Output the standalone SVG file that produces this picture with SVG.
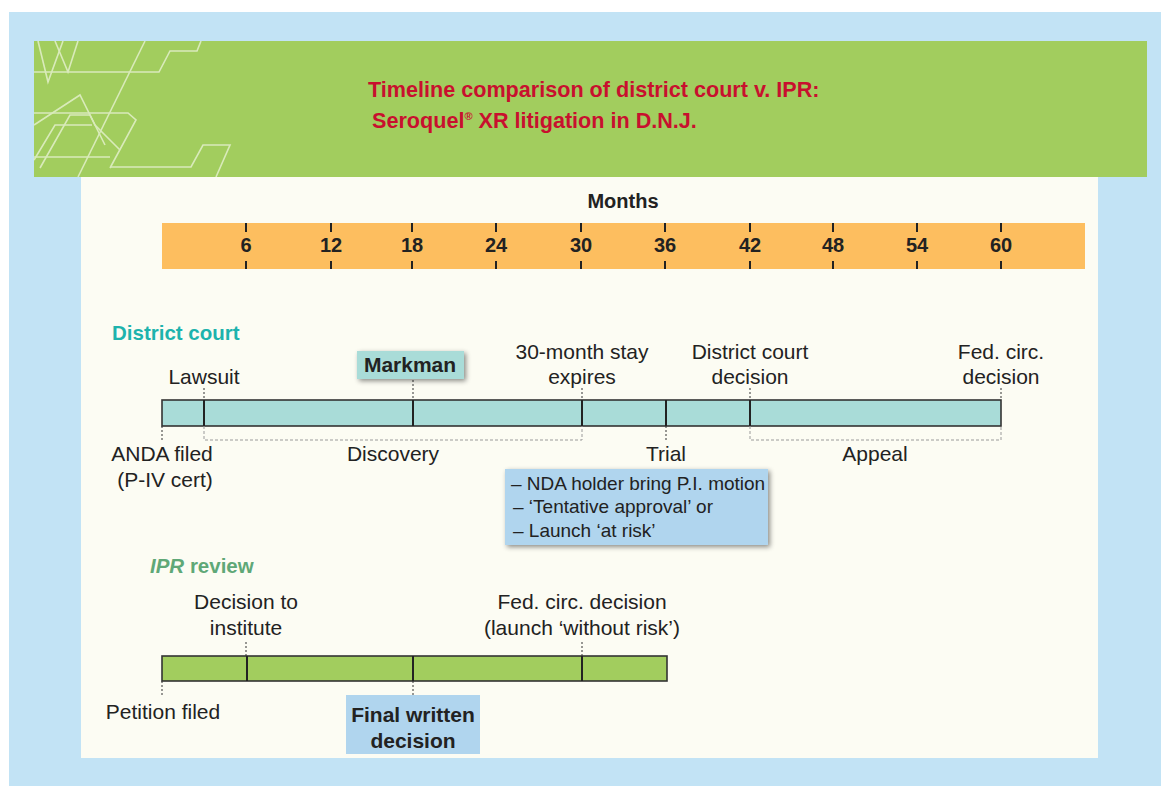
<svg xmlns="http://www.w3.org/2000/svg" width="1161" height="786" viewBox="0 0 1161 786">
<defs>
<style>
text{font-family:"Liberation Sans",Arial,sans-serif;fill:#222}
.lbl{font-size:21px;text-anchor:middle}
.num{font-size:20px;font-weight:bold;text-anchor:middle}
.bold{font-weight:bold}
.bar{stroke:#333;stroke-width:1.6}
.div{stroke:#222;stroke-width:2}
.lead{stroke:#333;stroke-width:1;stroke-dasharray:2 2;fill:none}
.brk{stroke:#9a9a9a;stroke-width:1;stroke-dasharray:3 2;fill:none}
.tick{stroke:#222;stroke-width:2}
.deco{fill:none;stroke:#e3f0cb;stroke-width:1.6;opacity:0.85}
</style>
<filter id="sh" x="-10%" y="-20%" width="125%" height="150%">
<feDropShadow dx="2" dy="2" stdDeviation="2.5" flood-color="#000" flood-opacity="0.45"/>
</filter>
</defs>
<rect width="1161" height="786" fill="#ffffff"/>
<rect x="9" y="12" width="1152" height="774" fill="#c2e3f5"/>
<g id="header">
<rect x="34" y="41" width="1113" height="136" fill="#a2cd5e"/>
<g class="deco">
<polyline points="38,41 48,82 63,41"/>
<polyline points="55,41 68,72 78,41"/>
<polyline points="145,41 78,177"/>
<polyline points="34,72 159,72 170,51 197,51 201,41"/>
<polyline points="34,113 128,113 136,120 110,168"/>
<polyline points="34,125 80,95 95,125 120,150"/>
<polyline points="34,157 110,157"/>
<polyline points="40,168 70,115 90,115 105,145"/>
<polyline points="111,167 191,167 203,145 230,145 216,177"/>
<polyline points="34,160 55,125 92,125"/>
</g>
<text x="368" y="97" font-size="21.6" font-weight="bold" style="fill:#c8102e">Timeline comparison of district court v. IPR:</text>
<text x="372" y="128" font-size="21.6" font-weight="bold" style="fill:#c8102e">Seroquel<tspan font-size="11" dy="-8">®</tspan><tspan dy="8"> XR litigation in D.N.J.</tspan></text>
</g>
<rect x="81" y="177" width="1017" height="581" fill="#fcfcf3"/>
<g id="months-axis">
<text x="623" y="208" class="bold" font-size="20" text-anchor="middle">Months</text>
<rect x="162" y="223" width="923" height="46" fill="#fdbe5f"/>
<g class="tick">
<line x1="246" y1="223" x2="246" y2="232"/><line x1="246" y1="261" x2="246" y2="269"/>
<line x1="331" y1="223" x2="331" y2="232"/><line x1="331" y1="261" x2="331" y2="269"/>
<line x1="412" y1="223" x2="412" y2="232"/><line x1="412" y1="261" x2="412" y2="269"/>
<line x1="496" y1="223" x2="496" y2="232"/><line x1="496" y1="261" x2="496" y2="269"/>
<line x1="581" y1="223" x2="581" y2="232"/><line x1="581" y1="261" x2="581" y2="269"/>
<line x1="665" y1="223" x2="665" y2="232"/><line x1="665" y1="261" x2="665" y2="269"/>
<line x1="750" y1="223" x2="750" y2="232"/><line x1="750" y1="261" x2="750" y2="269"/>
<line x1="833" y1="223" x2="833" y2="232"/><line x1="833" y1="261" x2="833" y2="269"/>
<line x1="917" y1="223" x2="917" y2="232"/><line x1="917" y1="261" x2="917" y2="269"/>
<line x1="1001" y1="223" x2="1001" y2="232"/><line x1="1001" y1="261" x2="1001" y2="269"/>
</g>
<text class="num" x="246" y="252">6</text>
<text class="num" x="331" y="252">12</text>
<text class="num" x="412" y="252">18</text>
<text class="num" x="496" y="252">24</text>
<text class="num" x="581" y="252">30</text>
<text class="num" x="665" y="252">36</text>
<text class="num" x="750" y="252">42</text>
<text class="num" x="833" y="252">48</text>
<text class="num" x="917" y="252">54</text>
<text class="num" x="1001" y="252">60</text>
</g>
<g id="district-court">
<text x="112" y="340" font-size="20.5" font-weight="bold" style="fill:#1db3ad">District court</text>
<rect class="bar" x="162" y="400" width="839" height="26" fill="#a9dcd8"/>
<g class="div">
<line x1="204" y1="400" x2="204" y2="426"/>
<line x1="413" y1="400" x2="413" y2="426"/>
<line x1="582" y1="400" x2="582" y2="426"/>
<line x1="666" y1="400" x2="666" y2="426"/>
<line x1="750" y1="400" x2="750" y2="426"/>
</g>
</g>
<g id="connectors">
<line class="lead" x1="204" y1="388" x2="204" y2="400"/>
<line class="lead" x1="413" y1="380" x2="413" y2="400"/>
<line class="lead" x1="582" y1="388" x2="582" y2="400"/>
<line class="lead" x1="750" y1="388" x2="750" y2="400"/>
<line class="lead" x1="1001" y1="388" x2="1001" y2="400"/>
<line class="lead" x1="162" y1="426" x2="162" y2="442"/>
<line class="lead" x1="666" y1="426" x2="666" y2="440"/>
<polyline class="brk" points="204,426 204,440 582,440 582,426"/>
<polyline class="brk" points="750,426 750,440 1001,440 1001,426"/>
<line class="lead" x1="246" y1="642" x2="246" y2="656"/>
<line class="lead" x1="582" y1="642" x2="582" y2="656"/>
<line class="lead" x1="162" y1="681" x2="162" y2="697"/>
<line class="lead" x1="413" y1="681" x2="413" y2="695"/>
</g>
<g id="lawsuit"><text class="lbl" x="204" y="384">Lawsuit</text></g>
<g id="markman">
<rect x="357" y="351" width="107" height="28" fill="#a9dcd8" filter="url(#sh)"/>
<text class="lbl bold" x="410" y="372">Markman</text>
</g>
<g id="stay"><text class="lbl" x="582" y="359">30-month stay</text><text class="lbl" x="582" y="384">expires</text></g>
<g id="dc-decision"><text class="lbl" x="750" y="359">District court</text><text class="lbl" x="750" y="384">decision</text></g>
<g id="fed-circ"><text class="lbl" x="1001" y="359">Fed. circ.</text><text class="lbl" x="1001" y="384">decision</text></g>
<g id="anda"><text class="lbl" x="162" y="461">ANDA filed</text><text class="lbl" x="165" y="487">(P-IV cert)</text></g>
<g id="discovery"><text class="lbl" x="393" y="461">Discovery</text></g>
<g id="trial"><text class="lbl" x="666" y="461">Trial</text></g>
<g id="appeal"><text class="lbl" x="875" y="461">Appeal</text></g>
<g id="nda-box">
<rect x="505" y="469" width="263" height="76" fill="#b0d5ee" filter="url(#sh)"/>
<text x="511" y="490" font-size="19">– NDA holder bring P.I. motion</text>
<text x="513" y="513" font-size="19">– ‘Tentative approval’ or</text>
<text x="513" y="537" font-size="19">– Launch ‘at risk’</text>
</g>
<g id="ipr-review">
<text x="150" y="573" font-size="20.5" font-weight="bold" style="fill:#5fa877"><tspan font-style="italic">IPR</tspan> review</text>
<rect class="bar" x="162" y="656" width="505" height="25" fill="#a2cd5e"/>
<g class="div">
<line x1="247" y1="656" x2="247" y2="681"/>
<line x1="413" y1="656" x2="413" y2="681"/>
<line x1="582" y1="656" x2="582" y2="681"/>
</g>
</g>
<g id="decision-institute"><text class="lbl" x="246" y="609">Decision to</text><text class="lbl" x="246" y="635">institute</text></g>
<g id="ipr-fed-circ"><text class="lbl" x="582" y="609">Fed. circ. decision</text><text class="lbl" x="582" y="635">(launch ‘without risk’)</text></g>
<g id="petition"><text class="lbl" x="163" y="719">Petition filed</text></g>
<g id="final-written">
<rect x="346" y="695" width="134" height="59" fill="#b0d5ee"/>
<text class="lbl bold" x="413" y="722">Final written</text>
<text class="lbl bold" x="413" y="748">decision</text>
</g>
</svg>
